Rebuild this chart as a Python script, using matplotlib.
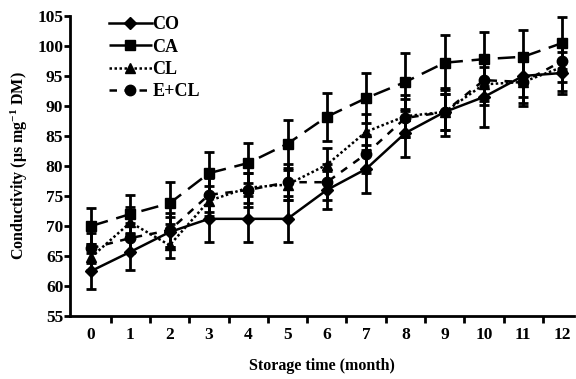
import numpy as np
import matplotlib.pyplot as plt

plt.rcParams['font.family'] = ['Liberation Serif', 'DejaVu Serif']
plt.rcParams['font.weight'] = 'bold'
plt.rcParams['mathtext.fontset'] = 'custom'
plt.rcParams['mathtext.rm'] = 'Liberation Serif:bold'
plt.rcParams['mathtext.it'] = 'Liberation Serif:bold'

months = np.arange(13)

co = [62.5, 65.7, 69.0, 71.2, 71.2, 71.2, 76.0, 79.5, 85.5, 89.0, 91.5, 95.0, 95.5]
co_err = [3.0, 3.0, 2.5, 3.8, 3.8, 3.8, 3.2, 4.0, 4.0, 4.0, 5.0, 3.5, 3.5]

ca = [70.0, 72.0, 73.8, 78.8, 80.5, 83.7, 88.2, 91.3, 94.0, 97.2, 97.8, 98.2, 100.5]
ca_err = [3.0, 3.2, 3.5, 3.5, 3.3, 4.0, 4.0, 4.2, 4.8, 4.6, 4.5, 4.5, 4.3]

cl = [64.8, 70.6, 66.8, 74.2, 76.4, 76.9, 80.2, 85.7, 88.3, 89.0, 93.6, 94.0, 96.5]
cl_err = [2.2, 2.5, 2.2, 2.5, 2.5, 2.5, 2.8, 3.0, 3.5, 3.0, 3.5, 4.0, 4.0]

ecl = [66.3, 68.0, 69.3, 75.2, 76.0, 77.3, 77.3, 82.0, 88.0, 89.0, 94.3, 94.0, 97.5]
ecl_err = [2.5, 2.5, 2.8, 2.8, 2.8, 3.0, 3.0, 3.2, 3.2, 3.0, 3.5, 3.5, 3.5]

series = [
    ('CO', co, co_err, 'D', '-', 6.5),
    ('CA', ca, ca_err, 's', (0, (7, 3.5)), 7.5),
    ('CL', cl, cl_err, '^', (0, (1, 1)), 7.5),
    ('E+CL', ecl, ecl_err, 'o', (0, (3, 3)), 7.5),
]

fig = plt.figure(figsize=(5.76, 3.79), dpi=100)
ax = fig.add_axes([0.122, 0.166, 0.875, 0.792])

for label, vals, errs, marker, ls, ms in series:
    ax.errorbar(months, vals, yerr=errs, color='black', marker=marker,
                markersize=ms, linestyle=ls, linewidth=1.8,
                elinewidth=2.0, capsize=3.5, capthick=2.0, label=label)

ax.set_xlim(-0.53, 12.3)
ax.set_ylim(55, 105)
ax.set_yticks(np.arange(55, 106, 5))

# month labels centred, tick marks between months
ax.set_xticks(months)
ax.set_xticks(np.arange(0.5, 12, 1), minor=True)
ax.tick_params(axis='x', which='major', length=0, pad=8, labelsize=12.5)
ax.tick_params(axis='x', which='minor', length=5, width=2, direction='out')
ax.tick_params(axis='y', length=4, width=2, direction='out', pad=1,
               labelsize=12.5)

for side in ('top', 'right'):
    ax.spines[side].set_visible(False)
for side in ('left', 'bottom'):
    ax.spines[side].set_linewidth(2)

ax.set_xlabel('Storage time (month)', fontsize=11.5, fontweight='bold',
              labelpad=11)
ax.set_ylabel(r'Conductivity (μs mg$^{-1}$ DM)', fontsize=11.5,
              fontweight='bold', labelpad=5)

handles, labels = ax.get_legend_handles_labels()
handles = [h[0] for h in handles]
ax.legend(handles, labels, loc='upper left', bbox_to_anchor=(0.055, 1.035),
          frameon=False, fontsize=13, handlelength=2.4, handletextpad=0.0,
          labelspacing=0.3, borderaxespad=0.2)

fig.savefig('out.png', dpi=100)
